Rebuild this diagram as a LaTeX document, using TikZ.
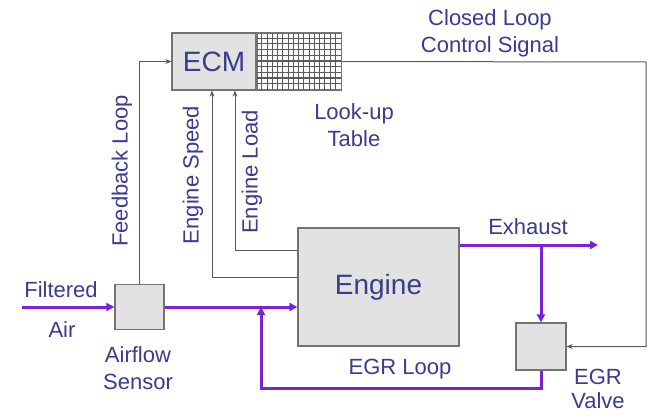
\documentclass[tikz,border=0pt]{standalone}
\usepackage{fontspec}
\setmainfont{Liberation Sans}
\usetikzlibrary{arrows.meta,positioning,calc}
\definecolor{EcmText}{HTML}{3B3B8F}
\definecolor{EcmPurple}{HTML}{7A22D6}
\definecolor{EcmFill}{HTML}{E2E2E2}
\definecolor{EcmLine}{HTML}{5A5A5A}
\tikzset{
    % Grey boxes
    block/.style={
        rectangle,
        draw=EcmLine!85,
        line width=1.2pt,
        fill=EcmFill,
        inner sep=0pt,
        text=EcmText,
        font=\fontsize{28}{32}\selectfont
    },
    lbl/.style={
        align=center,
        inner sep=0pt,
        text=EcmText,
        font=\fontsize{22}{27}\selectfont
    },
    signal/.style={
        -{Stealth[length=6pt,width=5pt]},
        draw=EcmLine,
        line width=1pt
    },
    flow/.style={
        -{Triangle[length=8pt,width=8pt]},
        draw=EcmPurple,
        line width=3pt
    },
    cell/.style={
        draw=EcmLine,
        line width=1.2pt
    }
}
\begin{document}
\begin{tikzpicture}[x=1pt, y=-1pt]
    \useasboundingbox[fill=white] (0,0) rectangle (652,415);

    % ECM and look-up table
    \node[block, minimum width=84pt, minimum height=57pt] (ecm) at (214,61.5) {ECM};
    \node[block, fill=white, minimum width=84pt, minimum height=57pt, anchor=west] (table) at (ecm.east) {};
    \foreach \k in {1,...,15}
        \draw[cell] ([xshift=\k*5.25pt]table.north west) -- ([xshift=\k*5.25pt]table.south west);
    \foreach \k in {1,...,9}
        \draw[cell] ([yshift=-\k*5.7pt]table.north west) -- ([yshift=-\k*5.7pt]table.north east);
    \draw[block, fill=none] (table.north west) rectangle (table.south east);

    % Engine, sensor, valve
    \node[block, minimum width=161pt, minimum height=118pt] (engine) at (378.5,287) {Engine};
    \node[block, minimum width=49pt, minimum height=45pt] (sensor) at (139.5,307) {};
    \node[block, minimum width=50pt, minimum height=47pt] (egr) at (541,346.5) {};

    % Labels
    \node[lbl] (cltext) at (490,33) {Closed Loop\\Control Signal};
    \node[lbl] (lookup) at (354,125) {Look-up\\Table};
    \node[lbl, rotate=90] (fbtext) at (122,171) {Feedback Loop};
    \node[lbl, rotate=90] (spdtext) at (193,175) {Engine Speed};
    \node[lbl, rotate=90] (loadtext) at (252,172) {Engine Load};
    \node[lbl] (filtered) at (61,290) {Filtered};
    \node[lbl] (airtext) at (62,330) {Air};
    \node[lbl] (sensortext) at (138,368) {Airflow\\Sensor};
    \node[lbl] (exhtext) at (528,227) {Exhaust};
    \node[lbl] (looptext) at (400,369) {EGR Loop};
    \node[lbl, font=\fontsize{22}{24}\selectfont] (egrtext) at (598,389) {EGR\\Valve};

    % Points
    \coordinate (air) at (22,307);
    \coordinate (spd) at (212,277);
    \coordinate (load) at (235,250);
    \coordinate (cl) at (646,62);
    \coordinate (exhaust) at (598,245);
    \coordinate (egrjoin) at (261,388);
    \coordinate (branch) at (egr.north |- exhaust);

    % Signal lines
    \draw[signal] (sensor.north) |- (ecm.west);
    \draw[signal] (engine.west |- spd) -| (spd |- ecm.south);
    \draw[signal] (engine.west |- load) -| (load |- ecm.south);
    \draw[signal] (table.east) -- (cl) |- (egr.east);

    % Gas flow
    \draw[flow] (air) -- (sensor.west);
    \draw[flow] (sensor.east) -- (sensor.east -| engine.west);
    \draw[flow] (engine.east |- exhaust) -- (exhaust);
    \draw[flow] (branch) -- (egr.north);
    \draw[flow] (egr.south) |- (egrjoin) -- (egrjoin |- sensor.east);
\end{tikzpicture}
\end{document}
